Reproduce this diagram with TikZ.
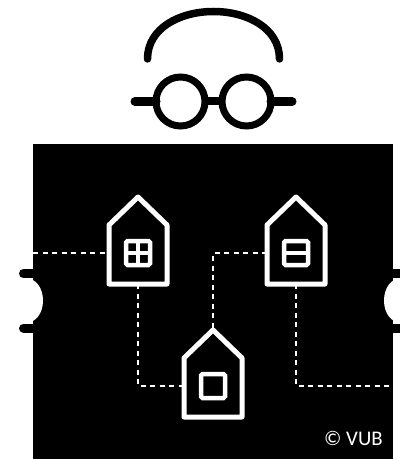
\documentclass[tikz,border=0pt]{standalone}
\usepackage{fontspec}
\setmainfont{Carlito}
\def\px{0.025cm}
\tikzset{
  frameline/.style={line width=7.5*\px,line cap=round},
  lens/.style={circle,draw,line width=7*\px,minimum size=49*\px,inner sep=0pt,outer sep=0pt},
  houseline/.style={white,line width=5*\px,line join=round},
  housebody/.style={minimum width=58*\px,minimum height=62*\px,inner sep=0pt,outer sep=0pt},
  windowbox/.style={draw=white,line width=4.5*\px,rounded corners=1.5*\px,minimum size=24*\px,inner sep=0pt,outer sep=0pt},
  dotline/.style={white,line width=2.7*\px,dash pattern=on 5*\px off 4.5*\px},
  earstick/.style={line width=9*\px}
}
\begin{document}
\begin{tikzpicture}[x=\px,y=-\px]
  \useasboundingbox (0,0) rectangle (400,459);

  % glasses
  \draw[frameline] (147.5,59) .. controls (147.5,28) and (180,11.5) .. (213.5,11.5)
    .. controls (247,11.5) and (279.5,28) .. (279.5,59);
  \node[lens] (lensL) at (180.5,101.5) {};
  \node[lens] (lensR) at (246.5,101.5) {};
  \coordinate (armL) at (135,101.5);
  \coordinate (armR) at (292,101.5);
  \draw[line width=9*\px,line cap=round] (armL) -- (lensL);
  \draw[line width=9*\px,line cap=round] (lensR) -- (armR);
  \draw[line width=8*\px] (lensL) -- (lensR);

  \fill (33,144) rectangle (393,459);

  % ears
  \fill[white] (25,278) .. controls (36,278) and (43,288) .. (43,300.5)
    .. controls (43,313) and (36,323) .. (25,323) -- cycle;
  \fill[white] (400,278) -- (402,278) .. controls (391,278) and (384,288) .. (384,300.5)
    .. controls (384,313) and (391,323) .. (402,323) -- (400,323) -- cycle;
  \draw[earstick,line cap=round] (23.5,273.5) -- (34,273.5);
  \draw[earstick,line cap=round] (23.5,328) -- (34,328);
  \draw[earstick] (392,273.5) -- (400,273.5);
  \draw[earstick] (392,328) -- (400,328);

  % houses
  \foreach \name/\x/\y in {A/138/253,B/296/253,C/213/386}{
    \node[housebody] (house\name) at (\x,\y) {};
    \node[windowbox] (win\name) at (\x,\y) {};
    \coordinate (top\name) at (\x,\y-56);
    \draw[houseline] (\x-29,\y-28) -- (top\name) -- (\x+29,\y-28)
      -- (house\name.south east) -- (house\name.south west) -- cycle;
  }
  \draw[white,line width=3.5*\px] (winA.north) -- (winA.south);
  \draw[white,line width=3.5*\px] (winA.west) -- (winA.east);
  \draw[white,line width=3.5*\px] (winB.west) -- (winB.east);

  % paths between houses
  \coordinate (inL) at (33,253);
  \coordinate (outR) at (393,386);
  \coordinate (turnB) at (213,253);
  \draw[dotline] (inL) -- (houseA.west);
  \draw[dotline] (houseA.south) -- (houseA.south |- houseC.west) -- (houseC.west);
  \draw[dotline] (houseB.west) -- (turnB) -- (topC);
  \draw[dotline] (houseB.south) -- (houseB.south |- outR) -- (outR);

  \node[white,font=\fontsize{14.8}{16}\selectfont,anchor=base east,inner sep=0pt] (credit) at (383,445) {© VUB};
\end{tikzpicture}
\end{document}
